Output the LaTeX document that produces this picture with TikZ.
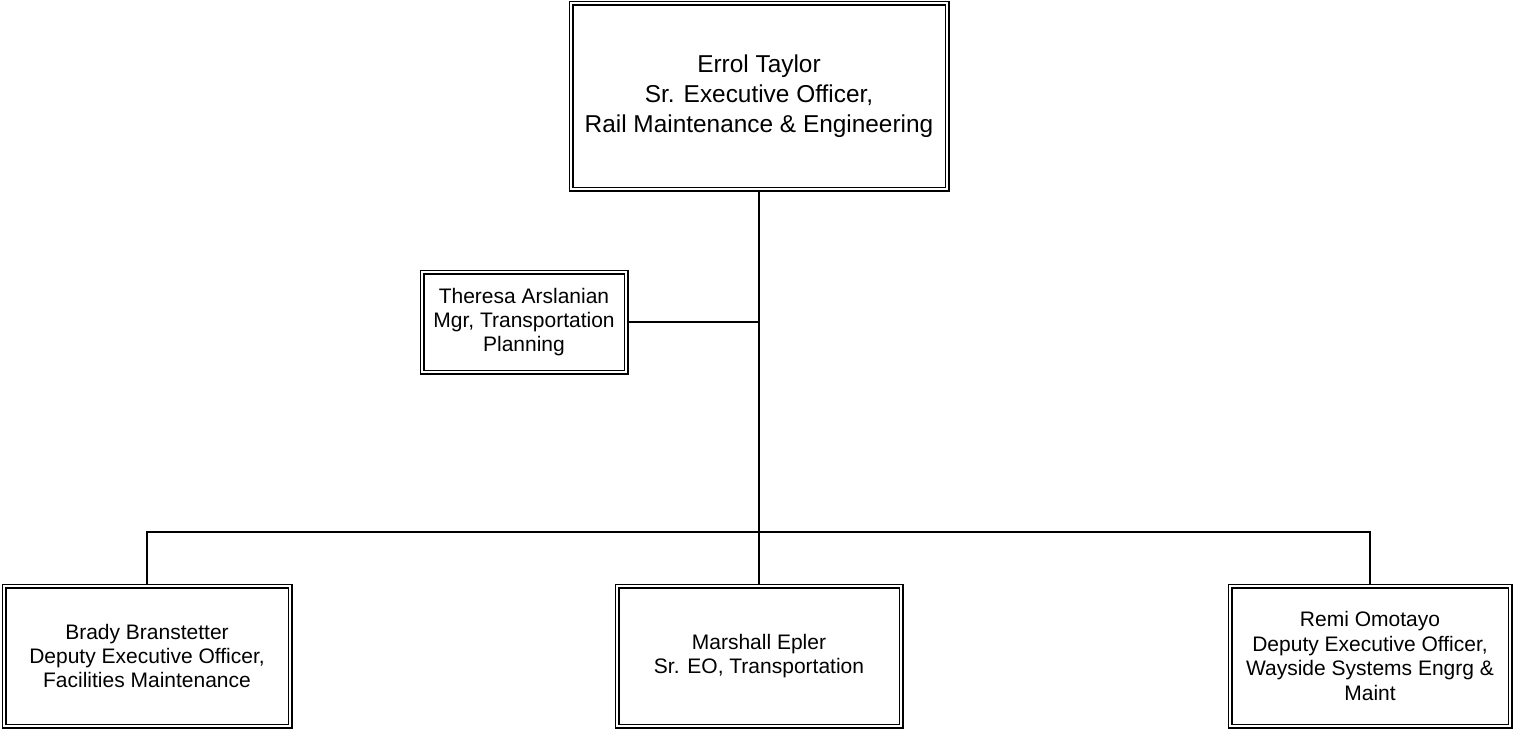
\documentclass[tikz,border=0pt]{standalone}
\usepackage{fontspec}
\setmainfont{Liberation Sans}
\begin{document}
\begin{tikzpicture}[x=0.5pt,y=-0.5pt,
  box/.style={draw, double, line width=0.7pt, double distance=1.1pt, inner sep=0pt, align=center, font=\fontsize{10.5}{12.2}\selectfont},
  conn/.style={line width=0.9pt}]
\useasboundingbox (0,0) rectangle (1515,730);
\node[box, minimum width=188pt, minimum height=93pt, font=\fontsize{12.2}{15}\selectfont] (top) at (759,96)
  {Errol Taylor\\Sr. Executive Officer,\\Rail Maintenance \& Engineering};
\node[box, minimum width=102pt, minimum height=50pt] (ta) at (524,322)
  {Theresa Arslanian\\Mgr, Transportation\\Planning};
\node[box, minimum width=143pt, minimum height=70pt] (bb) at (147,656)
  {Brady Branstetter\\Deputy Executive Officer,\\Facilities Maintenance};
\node[box, minimum width=142pt, minimum height=70pt] (me) at (759,656)
  {Marshall Epler\\Sr. EO, Transportation};
\node[box, minimum width=140pt, minimum height=70pt] (ro) at (1370,656)
  {Remi Omotayo\\Deputy Executive Officer,\\Wayside Systems Engrg \&\\Maint};
\coordinate (hub) at (top.south |- 0,532);
\coordinate (tj) at (top.south |- ta.east);
\draw[conn] (top.south) -- (hub);
\draw[conn] (ta.east) -- (tj);
\draw[conn] (bb.north) |- (hub) -| (ro.north);
\draw[conn] (hub) -- (me.north);
\end{tikzpicture}
\end{document}
